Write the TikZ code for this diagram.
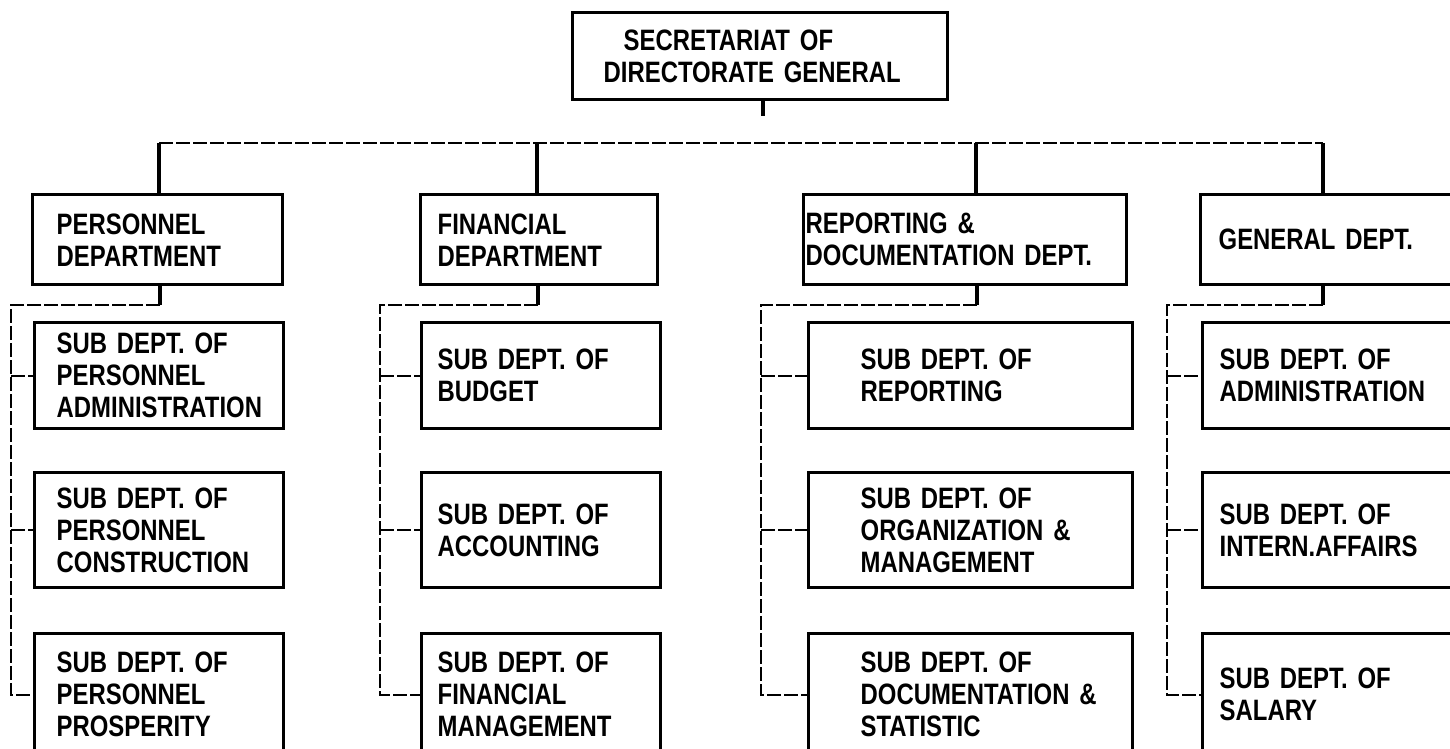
\documentclass[tikz,border=0pt]{standalone}
\usepackage{fontspec}
\newfontfamily\df{Liberation Sans}[FakeStretch=0.81]
\tikzset{
  bx/.style={draw,line width=3.4pt,anchor=north west,align=left,inner xsep=0pt,inner ysep=0pt,
    font=\df\bfseries\fontsize{29.5}{32}\selectfont},
  solidln/.style={line width=3.4pt},
  busln/.style={line width=2.2pt,dash pattern=on 14pt off 3pt},
}
\newcommand\orgbox[7]{%
  \pgfmathsetmacro\obtw{#4-2*#6}%
  \node[bx,minimum width=#4pt,minimum height=#5pt,text width=\obtw pt] (#1) at (#2,#3) {#7};}
\begin{document}
\begin{tikzpicture}[x=1pt,y=-1pt]
\useasboundingbox (0,0) rectangle (1450,748);
\clip (0,0) rectangle (1450,748);
% top
\orgbox{T}{571}{11}{375}{87}{31}{\hspace*{20pt}SECRETARIAT~OF\\DIRECTORATE~GENERAL}
% departments
\orgbox{P}{31}{193}{250}{90}{24}{PERSONNEL\\DEPARTMENT}
\orgbox{F}{419}{193}{237}{90}{17}{FINANCIAL\\DEPARTMENT}
\orgbox{R}{802}{193}{323}{90}{2}{REPORTING~\&\\DOCUMENTATION~DEPT.}
\orgbox{G}{1199}{193}{300}{90}{18}{GENERAL~DEPT.}
% personnel subs
\orgbox{P1}{33}{321}{249}{106}{22}{SUB~DEPT.~OF\\PERSONNEL\\ADMINISTRATION}
\orgbox{P2}{33}{471}{249}{115}{22}{SUB~DEPT.~OF\\PERSONNEL\\CONSTRUCTION}
\orgbox{P3}{33}{632}{249}{122}{22}{SUB~DEPT.~OF\\PERSONNEL\\PROSPERITY}
% financial subs
\orgbox{F1}{420}{321}{239}{106}{16}{SUB~DEPT.~OF\\BUDGET}
\orgbox{F2}{420}{471}{239}{115}{16}{SUB~DEPT.~OF\\ACCOUNTING}
\orgbox{F3}{420}{632}{239}{122}{16}{SUB~DEPT.~OF\\FINANCIAL\\MANAGEMENT}
% reporting subs
\orgbox{R1}{807}{321}{324}{106}{52}{SUB~DEPT.~OF\\REPORTING}
\orgbox{R2}{807}{471}{324}{115}{52}{SUB~DEPT.~OF\\ORGANIZATION~\&\\MANAGEMENT}
\orgbox{R3}{807}{632}{324}{122}{52}{SUB~DEPT.~OF\\DOCUMENTATION~\&\\STATISTIC}
% general subs
\orgbox{G1}{1201}{321}{300}{106}{17}{SUB~DEPT.~OF\\ADMINISTRATION}
\orgbox{G2}{1201}{471}{300}{115}{17}{SUB~DEPT.~OF\\INTERN.AFFAIRS}
\orgbox{G3}{1201}{632}{300}{122}{17}{SUB~DEPT.~OF\\SALARY}
% top stub
\coordinate (tstub) at (763,116);
\draw[solidln] (T.south -| tstub) -- (tstub);
% main bus
\coordinate (bP) at (159,143);
\coordinate (bF) at (537,143);
\coordinate (bR) at (976,143);
\coordinate (bG) at (1323,143);
\draw[busln] (bP) -- (bG);
\foreach \c in {P,F,R,G}{\draw[solidln] (b\c) -- (b\c |- \c.north);}
% sub buses
\coordinate (sP) at (160,305);  \coordinate (vP) at (11,305);
\coordinate (sF) at (538,305);  \coordinate (vF) at (380,305);
\coordinate (sR) at (977,305);  \coordinate (vR) at (761,305);
\coordinate (sG) at (1323,305); \coordinate (vG) at (1167,305);
\foreach \c in {P,F,R,G}{
  \draw[solidln] (\c.south -| s\c) -- (s\c);
  \draw[busln] (s\c) -- (v\c) -- (v\c |- \c3.west) -- (\c3.west);
  \draw[busln] (v\c |- \c1.west) -- (\c1.west);
  \draw[busln] (v\c |- \c2.west) -- (\c2.west);
}
\end{tikzpicture}
\end{document}
